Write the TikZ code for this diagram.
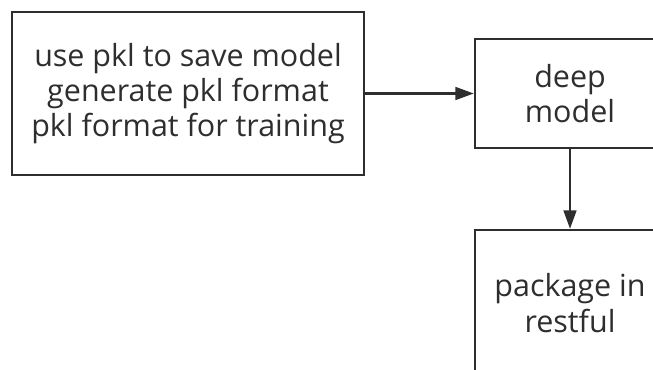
\documentclass[tikz,border=0pt]{standalone}
\usepackage{fontspec}
\setmainfont{Open Sans}
\usetikzlibrary{arrows.meta}
\definecolor{linegray}{HTML}{2E2E2E}
\tikzset{
  flowbox/.style={draw=linegray, line width=2pt, align=center, text=linegray,
    font=\fontsize{26}{30}\selectfont, inner sep=0pt},
  flowarrow/.style={draw=linegray, line width=2pt,
    -{Triangle[length=5.5mm,width=3.8mm]}}
}
\begin{document}
\begin{tikzpicture}[x=0.03cm, y=-0.03cm]
			%%%%% START %%%%%
			
			\useasboundingbox (0, 0) rectangle (653, 369);
			\clip (0, 0) rectangle (653, 369);
			\fill[white] (0, 0) rectangle (653, 369);
			
			\node[flowbox, minimum width=10.56cm, minimum height=4.89cm] (pklbox) at (188, 93.5)
				{use pkl to save model\\generate pkl format\\pkl format for training};
			\node[flowbox, minimum width=5.7cm, minimum height=3.27cm] (deepbox) at (570, 93.5)
				{deep\\model};
			\node[flowbox, minimum width=5.7cm, minimum height=4.38cm] (restbox) at (570, 303)
				{package in\\restful};
			
			\draw[flowarrow] (pklbox.east) -- (deepbox.west);
			\draw[flowarrow] (deepbox.south) -- (restbox.north);
			
			%%%%% END %%%%%
\end{tikzpicture}
\end{document}
